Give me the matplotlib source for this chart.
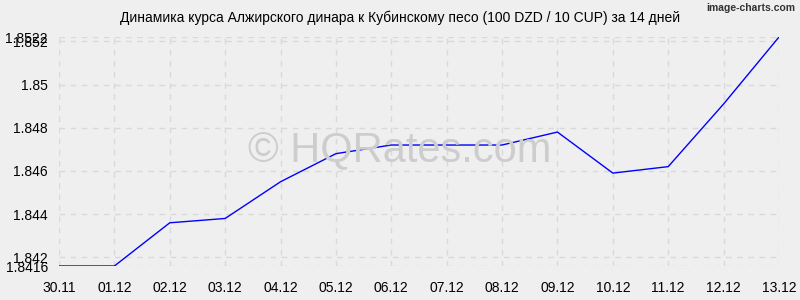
import matplotlib.pyplot as plt

dates = ['30.11', '01.12', '02.12', '03.12', '04.12', '05.12', '06.12',
         '07.12', '08.12', '09.12', '10.12', '11.12', '12.12', '13.12']
rates = [1.8416, 1.8416, 1.8436, 1.8438, 1.8455, 1.8468, 1.8472,
         1.8472, 1.8472, 1.8478, 1.8459, 1.8462, 1.8491, 1.8522]
yticks = [1.8416, 1.842, 1.844, 1.846, 1.848, 1.85, 1.852, 1.8522]
ylabels = ['1.8416', '1.842', '1.844', '1.846', '1.848', '1.85', '1.852', '1.8522']

plt.rcParams['font.family'] = ['Liberation Sans', 'DejaVu Sans']
bg = '#efefef'
fig = plt.figure(figsize=(8, 3), dpi=100, facecolor=bg)
ax = fig.add_axes([59 / 800, 1 - 266 / 300, 720 / 800, 229 / 300], facecolor=bg)

x = range(len(dates))
ax.plot(x, rates, color='#0000ff', lw=1)
ax.set_xlim(0, len(dates) - 1)
ax.set_ylim(1.8416, 1.8522)
ax.set_xticks(list(x))
ax.set_xticklabels(dates, fontsize=10)
ax.set_yticks(yticks)
ax.set_yticklabels(ylabels, fontsize=10)
ax.tick_params(axis='x', length=0, pad=11)
ax.tick_params(axis='y', length=0, pad=8)
ax.grid(True, color='#d9d9d9', ls=(0, (4, 4)), lw=1)
for s in ax.spines.values():
    s.set_visible(False)

fig.text(0.5, 1 - 18 / 300, 'Динамика курса Алжирского динара к Кубинскому песо (100 DZD / 10 CUP) за 14 дней',
         ha='center', va='center', fontsize=10)
fig.text(795 / 800, 1 - 8 / 300, 'image-charts.com', ha='right', va='center',
         fontsize=7.5, color='#333333', fontweight='bold')
fig.text(0.5, 1 - 150 / 300, '© HQRates.com', ha='center', va='center',
         fontsize=30, color='#cdcdcd', zorder=0)

fig.savefig('out.png', dpi=100, facecolor=bg)
